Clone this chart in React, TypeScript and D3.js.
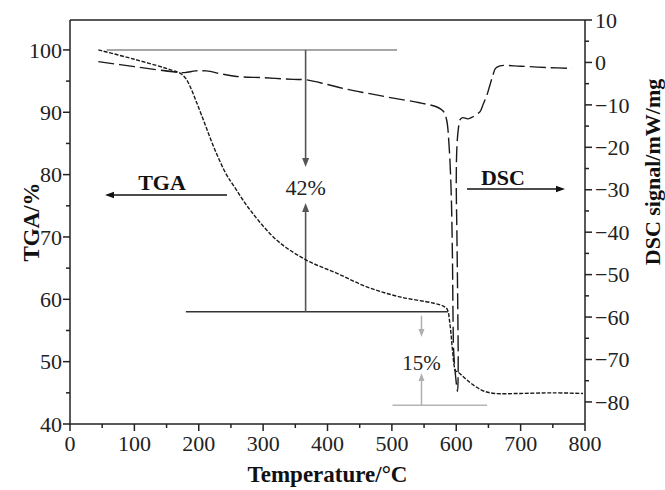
import React from "react";
import * as d3 from "d3";

const W = 665;
const H = 490;
const M = { left: 70, right: 80, top: 20, bottom: 66 };

// Axis ticks
const tempTicks = [0, 100, 200, 300, 400, 500, 600, 700, 800];
const tempMinor = [50, 150, 250, 350, 450, 550, 650, 750];
const tgaTicks = [40, 50, 60, 70, 80, 90, 100];
const tgaMinor = [45, 55, 65, 75, 85, 95];
const dscTicks = [10, 0, -10, -20, -30, -40, -50, -60, -70, -80];
const dscMinor = [5, -5, -15, -25, -35, -45, -55, -65, -75];

// TGA mass (%) vs temperature (°C)
const tgaTemp = [44, 100, 160, 172, 180, 188, 197, 210, 225, 243, 253, 280, 321, 367, 414, 461, 512, 564, 580, 586, 590, 594, 597, 599, 603, 615, 630, 645, 660, 700, 750, 797];
const tgaMass = [100, 98.5, 96.7, 96.2, 95.4, 93.8, 91.5, 88, 84, 80, 78.4, 74.3, 69.5, 66.3, 64.2, 62, 60.4, 59.4, 58.9, 58.4, 56.2, 52, 49.2, 48.5, 48.3, 47.2, 46, 45.2, 44.9, 44.9, 45.0, 44.9];

// DSC heat flow (mW/mg) vs temperature (°C)
const dscTemp = [44, 100, 160, 178, 195, 212, 235, 259, 300, 347, 367, 400, 424, 460, 502, 543, 570, 580, 585, 589, 592, 594, 595, 596, 599, 602, 603, 602.5, 601, 600, 601, 603, 606, 610, 618, 626, 632, 637, 642, 647, 652, 657, 661, 668, 700, 740, 780];
const dscSignal = [0.2, -1.0, -2.2, -2.4, -2.0, -2.0, -2.7, -3.3, -3.6, -4.0, -4.1, -5.2, -6.1, -7.2, -8.4, -9.5, -10.5, -11.5, -13.5, -20, -30, -45, -60, -68, -74, -77.5, -72, -60, -40, -28, -20, -16, -13.5, -13, -13.3, -12.8, -12.2, -11.6, -9.8, -8, -5.5, -3, -1.4, -0.8, -0.9, -1.2, -1.4];

// Mass-loss annotation
const massInitial = 100;
const lossFirst = 42;
const lossSecond = 15;
const refLineTemps = { top: [57, 508], mid: [180, 587], low: [501, 648] };
const lossArrowTemp = [366, 546];

const serif = "Times New Roman, Liberation Serif, Times, serif";

export default function App() {
  const x = d3.scaleLinear().domain([0, 800]).range([M.left, W - M.right]);
  const yL = d3.scaleLinear().domain([40, 104.8]).range([H - M.bottom, M.top]);
  const yR = d3.scaleLinear().domain([-85.2, 10]).range([H - M.bottom, M.top]);

  const x0 = M.left;
  const x1 = W - M.right;
  const y0 = H - M.bottom;
  const y1 = M.top;

  const tgaData: [number, number][] = tgaTemp.map((t, i) => [t, tgaMass[i]]);
  const dscData: [number, number][] = dscTemp.map((t, i) => [t, dscSignal[i]]);

  const tgaLine = d3
    .line<[number, number]>()
    .x((d) => x(d[0]))
    .y((d) => yL(d[1]))
    .curve(d3.curveCatmullRom.alpha(0.5));
  const dscLine = d3
    .line<[number, number]>()
    .x((d) => x(d[0]))
    .y((d) => yR(d[1]))
    .curve(d3.curveCatmullRom.alpha(0.5));

  const midLevel = massInitial - lossFirst;
  const lowLevel = midLevel - lossSecond;

  const arrowHead = (tx: number, ty: number, dir: "up" | "down" | "left" | "right", size = 9, half = 3.5) => {
    let pts: [number, number][];
    if (dir === "down") pts = [[tx, ty], [tx - half, ty - size], [tx + half, ty - size]];
    else if (dir === "up") pts = [[tx, ty], [tx - half, ty + size], [tx + half, ty + size]];
    else if (dir === "left") pts = [[tx, ty], [tx + size, ty - half], [tx + size, ty + half]];
    else pts = [[tx, ty], [tx - size, ty - half], [tx - size, ty + half]];
    return pts.map((p) => p.join(",")).join(" ");
  };

  const axisColor = "#222";
  const ax1 = x(lossArrowTemp[0]);
  const ax2 = x(lossArrowTemp[1]);
  const yTop = yL(massInitial);
  const yMid = yL(midLevel);
  const yLow = yL(lowLevel);
  const txt1Y = 187;
  const txt2Y = (yMid + yLow) / 2 + 4;

  return (
    <svg
      width={W}
      height={H}
      style={{ position: "fixed", left: 0, top: 0, background: "#fff", fontFamily: serif }}
    >
      <rect width={W} height={H} fill="#fff" />

      {/* frame */}
      <line x1={x0} y1={y1} x2={x1} y2={y1} stroke={axisColor} strokeWidth={1.5} />
      <line x1={x0} y1={y1} x2={x0} y2={y0} stroke={axisColor} strokeWidth={1.5} />
      <line x1={x1} y1={y1} x2={x1} y2={y0} stroke={axisColor} strokeWidth={1.5} />
      <line x1={x0} y1={y0} x2={x1} y2={y0} stroke={axisColor} strokeWidth={1.5} />

      {/* bottom axis */}
      {tempTicks.map((t) => (
        <g key={"bt" + t}>
          <line x1={x(t)} x2={x(t)} y1={y0} y2={y0 + 7} stroke={axisColor} strokeWidth={1.5} />
          <text x={x(t)} y={451} textAnchor="middle" fontSize={22} fill="#222">
            {t}
          </text>
        </g>
      ))}
      {tempMinor.map((t) => (
        <line key={"bm" + t} x1={x(t)} x2={x(t)} y1={y0} y2={y0 + 4} stroke={axisColor} strokeWidth={1.5} />
      ))}

      {/* left axis */}
      {tgaTicks.map((v) => (
        <g key={"lt" + v}>
          <line x1={x0 - 7} x2={x0} y1={yL(v)} y2={yL(v)} stroke={axisColor} strokeWidth={1.5} />
          <text x={x0 - 8} y={yL(v)} dy="0.35em" textAnchor="end" fontSize={22} fill="#222">
            {v}
          </text>
        </g>
      ))}
      {tgaMinor.map((v) => (
        <line key={"lm" + v} x1={x0 - 4} x2={x0} y1={yL(v)} y2={yL(v)} stroke={axisColor} strokeWidth={1.5} />
      ))}

      {/* right axis */}
      {dscTicks.map((v) => (
        <g key={"rt" + v}>
          <line x1={x1} x2={x1 + 7} y1={yR(v)} y2={yR(v)} stroke={axisColor} strokeWidth={1.5} />
          <text x={x1 + 10} y={yR(v)} dy="0.35em" textAnchor="start" fontSize={22} fill="#222">
            {v < 0 ? "\u2212" + Math.abs(v) : v}
          </text>
        </g>
      ))}
      {dscMinor.map((v) => (
        <line key={"rm" + v} x1={x1} x2={x1 + 4} y1={yR(v)} y2={yR(v)} stroke={axisColor} strokeWidth={1.5} />
      ))}

      {/* axis titles */}
      <text x={(x0 + x1) / 2} y={482} textAnchor="middle" fontSize={23} fontWeight="bold" fill="#111">
        Temperature/°C
      </text>
      <text
        transform={`translate(31, ${(y0 + y1) / 2}) rotate(-90)`}
        textAnchor="middle"
        dy="0.35em"
        fontSize={23}
        fontWeight="bold"
        fill="#111"
      >
        TGA/%
      </text>
      <text
        transform={`translate(652, 172) rotate(-90)`}
        textAnchor="middle"
        dy="0.35em"
        fontSize={22}
        fontWeight="bold"
        fill="#111"
      >
        DSC signal/mW/mg
      </text>

      {/* mass-loss reference lines */}
      <line x1={x(refLineTemps.top[0])} x2={x(refLineTemps.top[1])} y1={yTop} y2={yTop} stroke="#8a8a8a" strokeWidth={1.6} />
      <line x1={x(refLineTemps.mid[0])} x2={x(refLineTemps.mid[1])} y1={yMid} y2={yMid} stroke="#333" strokeWidth={1.6} />
      <line x1={x(refLineTemps.low[0])} x2={x(refLineTemps.low[1])} y1={yLow} y2={yLow} stroke="#b5b5b5" strokeWidth={1.6} />

      {/* 42% arrows */}
      <line x1={ax1} x2={ax1} y1={yTop} y2={167 - 8} stroke="#555" strokeWidth={1.6} />
      <polygon points={arrowHead(ax1, 167, "down")} fill="#555" />
      <line x1={ax1} x2={ax1} y1={yMid} y2={203 + 8} stroke="#555" strokeWidth={1.6} />
      <polygon points={arrowHead(ax1, 203, "up")} fill="#555" />
      <text x={ax1} y={txt1Y} dy="0.35em" textAnchor="middle" fontSize={22} fill="#222">
        {lossFirst}%
      </text>

      {/* 15% arrows */}
      <line x1={ax2} x2={ax2} y1={yMid + 4} y2={337 - 8} stroke="#b0b0b0" strokeWidth={1.5} />
      <polygon points={arrowHead(ax2, 337, "down", 8, 3)} fill="#b0b0b0" />
      <line x1={ax2} x2={ax2} y1={yLow} y2={373 + 8} stroke="#b0b0b0" strokeWidth={1.5} />
      <polygon points={arrowHead(ax2, 373, "up", 8, 3)} fill="#b0b0b0" />
      <text x={ax2} y={txt2Y} dy="0.35em" textAnchor="middle" fontSize={21} fill="#222">
        {lossSecond}%
      </text>

      {/* curves */}
      <path d={dscLine(dscData) || ""} fill="none" stroke="#1a1a1a" strokeWidth={1.4} strokeDasharray="16 5" />
      <path d={tgaLine(tgaData) || ""} fill="none" stroke="#1a1a1a" strokeWidth={1.4} strokeDasharray="4 1.6" />

      {/* curve labels */}
      <text x={162} y={182} dy="0.35em" textAnchor="middle" fontSize={22} fontWeight="bold" fill="#111">
        TGA
      </text>
      <line x1={227} x2={105 + 8} y1={195} y2={195} stroke="#111" strokeWidth={1.5} />
      <polygon points={arrowHead(105, 195, "left", 9, 3.2)} fill="#111" />

      <text x={503} y={177} dy="0.35em" textAnchor="middle" fontSize={22} fontWeight="bold" fill="#111">
        DSC
      </text>
      <line x1={467} x2={565 - 8} y1={189} y2={189} stroke="#111" strokeWidth={1.5} />
      <polygon points={arrowHead(565, 189, "right", 9, 3.2)} fill="#111" />
    </svg>
  );
}
